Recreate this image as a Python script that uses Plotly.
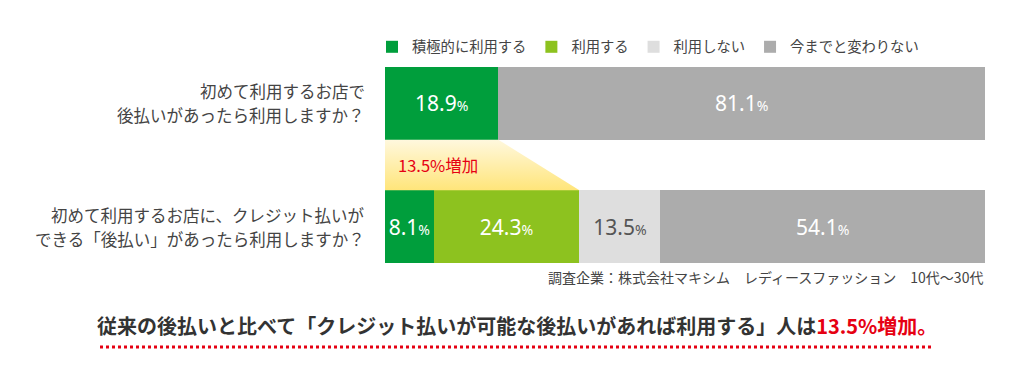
import plotly.graph_objects as go

# ---- data ----
questions = [
    "初めて利用するお店で<br>後払いがあったら利用しますか？",
    "初めて利用するお店に、クレジット払いが<br>できる「後払い」があったら利用しますか？",
]
q_pos = [1, 0]
series_names = ["積極的に利用する", "利用する", "利用しない", "今までと変わりない"]
series_values = [
    [18.9, 8.1],
    [None, 24.3],
    [None, 13.5],
    [81.1, 54.1],
]
increase_label = "13.5%増加"
source_text = "調査企業：株式会社マキシム　レディースファッション　10代～30代"
caption_main = "従来の後払いと比べて「クレジット払いが可能な後払いがあれば利用する」人は"
caption_red = "13.5%増加。"

colors = ["#009E3C", "#8DC21F", "#DEDEDE", "#ACACAC"]
text_colors = ["white", "white", "#555555", "white"]
FONT = "Noto Sans CJK JP"
NUM_FONT = "Noto Sans"
BAR_W = 0.59

# page offset (default body margin of the html page)
OFF = 8
W, H = 1030 - OFF, 389 - OFF
ML, MR, MT, MB = 385 - OFF, 45, 67 - OFF, 389 - 263
plot_w = W - ML - MR
plot_h = H - MT - MB


def px_x(px):
    return (px - OFF - ML) / plot_w


def px_y(py):
    return (H - MB - (py - OFF)) / plot_h


fig = go.Figure()

# gradient trapezoid linking the two bars
top_edge = q_pos[0] - BAR_W / 2
bottom_edge = q_pos[1] + BAR_W / 2
x_top = series_values[0][0]
x_bottom = series_values[0][1] + series_values[1][1]
fig.add_trace(go.Scatter(
    x=[0, x_top, x_bottom, 0, 0],
    y=[top_edge, top_edge, bottom_edge, bottom_edge, top_edge],
    mode="lines", fill="toself", line=dict(width=0),
    fillgradient=dict(type="vertical",
                      colorscale=[[0, "#FFE57A"], [1, "#FFF8DE"]]),
    hoverinfo="skip", showlegend=False,
))

for name, vals, c, tc in zip(series_names, series_values, colors, text_colors):
    texts = [
        "" if v is None else f"{v}<span style='font-size:14px'>%</span>"
        for v in vals
    ]
    fig.add_trace(go.Bar(
        name=name, y=q_pos, x=vals, orientation="h", width=BAR_W,
        marker=dict(color=c, line=dict(width=0)),
        text=texts, textposition="inside", insidetextanchor="middle",
        constraintext="none",
        textfont=dict(family=NUM_FONT, size=21, color=tc),
        hoverinfo="skip",
    ))

# question labels (one annotation per line, 24px line pitch)
for q, yv in zip(questions, q_pos):
    lines = q.split("<br>")
    n = len(lines)
    for i, line in enumerate(lines):
        fig.add_annotation(
            x=0, y=yv, xref="x", yref="y", text=line, showarrow=False,
            xanchor="right", yanchor="middle", xshift=-18,
            yshift=((n - 1) / 2 - i) * 24,
            font=dict(family=FONT, size=16.5, color="#444444"),
        )

fig.add_annotation(
    x=0, y=(top_edge + bottom_edge) / 2, xref="x", yref="y",
    text=increase_label, showarrow=False, xanchor="left", xshift=11,
    font=dict(family=FONT, size=16.5, color="#E60012"),
)

fig.add_annotation(
    x=1, y=px_y(277), xref="paper", yref="paper",
    text=source_text, showarrow=False, xanchor="right", yanchor="middle",
    font=dict(family=FONT, size=14, color="#444444"),
)

fig.add_annotation(
    x=px_x(517), y=px_y(325), xref="paper", yref="paper",
    text=f"<b>{caption_main}</b><b><span style='color:#E60012'>{caption_red}</span></b>",
    showarrow=False, xanchor="center", yanchor="middle",
    font=dict(family=FONT, size=20, color="#333333"),
)

# red dashed underline
fig.add_shape(type="line", xref="paper", yref="paper",
              x0=px_x(100), x1=px_x(932), y0=px_y(347), y1=px_y(347),
              line=dict(color="#E60012", width=3, dash="dot"))

fig.update_layout(
    width=W, height=H,
    margin=dict(l=ML, r=MR, t=MT, b=MB, autoexpand=False),
    barmode="stack",
    paper_bgcolor="white", plot_bgcolor="white",
    font=dict(family=FONT, color="#444444"),
    showlegend=True,
    legend=dict(orientation="h", x=px_x(372), xanchor="left",
                y=px_y(47), yanchor="middle",
                font=dict(family=FONT, size=14.3, color="#444444"),
                traceorder="normal", itemwidth=30),
    xaxis=dict(range=[0, 100], visible=False, fixedrange=True),
    yaxis=dict(range=[-BAR_W / 2, 1 + BAR_W / 2],
               tickvals=q_pos, showticklabels=False, showgrid=False,
               zeroline=False, showline=False, ticks=""),
)

fig.write_html("out.html")
